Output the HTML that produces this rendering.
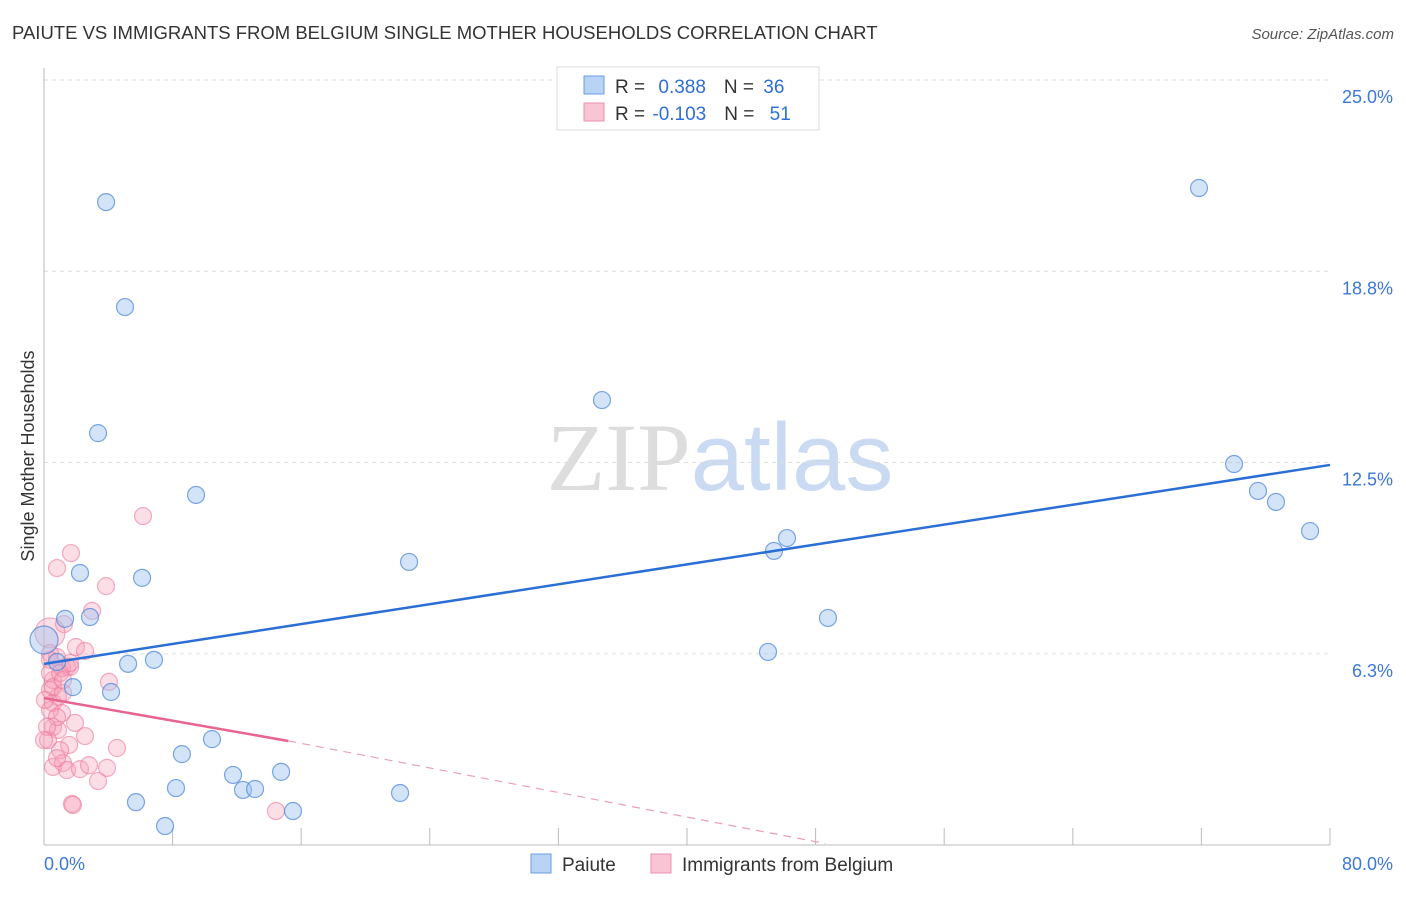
<!DOCTYPE html>
<html><head><meta charset="utf-8"><style>
body{margin:0;background:#fff;font-family:"Liberation Sans",sans-serif}
svg text{font-family:"Liberation Sans",sans-serif}
</style></head><body>
<svg id="chart" width="1406" height="892" xmlns="http://www.w3.org/2000/svg">
<text x="12" y="39" font-size="18.5" fill="#333">PAIUTE VS IMMIGRANTS FROM BELGIUM SINGLE MOTHER HOUSEHOLDS CORRELATION CHART</text>
<text x="1394" y="39" font-size="15" fill="#555" text-anchor="end" font-style="italic">Source: ZipAtlas.com</text>
<text x="720" y="490" font-size="96" text-anchor="middle"><tspan fill="#ddd" font-family="Liberation Serif">ZIP</tspan><tspan fill="#c9daf2">atlas</tspan></text>
<text transform="translate(34,456) rotate(-90)" font-size="18" fill="#333" text-anchor="middle">Single Mother Households</text>
<g id="axes"></g>
<g id="marks"></g>
<g>
<rect x="557" y="67" width="262" height="63" fill="#fff" stroke="#ddd"/>
<rect x="584" y="76" width="20" height="18" fill="#b9d3f5" stroke="#6a9be0"/>
<rect x="584" y="103" width="20" height="18" fill="#f9c4d4" stroke="#ec8fab"/>
<text x="615" y="93" font-size="19" fill="#333">R = <tspan fill="#2e6fd8" dx="8">0.388</tspan><tspan dx="18" fill="#333">N = </tspan><tspan fill="#2e6fd8" dx="4">36</tspan></text>
<text x="615" y="120" font-size="19" fill="#333">R = <tspan fill="#2e6fd8" dx="2">-0.103</tspan><tspan dx="18" fill="#333">N = </tspan><tspan fill="#2e6fd8" dx="10">51</tspan></text>
</g>
<g>
<rect x="531" y="854" width="20" height="19" fill="#b9d3f5" stroke="#6a9be0"/>
<text x="562" y="871" font-size="19" fill="#333">Paiute</text>
<rect x="651" y="854" width="20" height="19" fill="#f9c4d4" stroke="#ec8fab"/>
<text x="682" y="871" font-size="19" fill="#333">Immigrants from Belgium</text>
</g>
</svg>
<script>
const yTicks=[25,18.75,12.5,6.25];
const yTickLabels=["25.0%","18.8%","12.5%","6.3%"];
const xTickLabels=["0.0%","80.0%"];
const paiuteX=[3.86,5.04,3.36,9.46,2.24,6.10,1.31,2.86,0,0.81,5.23,6.84,1.80,4.17,8.58,10.45,8.21,5.72,7.53,11.76,12.38,13.13,14.75,15.49,22.15,22.71,34.71,45.41,46.22,48.77,45.04,71.85,74.03,75.52,76.64,78.76];
const paiuteY=[21.01,17.58,13.46,11.44,8.89,8.73,7.39,7.45,6.70,5.98,5.92,6.05,5.16,5.00,2.97,3.46,1.86,1.40,0.62,2.29,1.80,1.83,2.39,1.11,1.70,9.25,14.54,9.61,10.03,7.42,6.31,21.47,12.45,11.57,11.21,10.26];
const belgX=[6.16,1.68,0.81,3.86,2.99,1.24,0.37,1.99,2.55,1.43,1.12,4.04,0.56,0.37,0.87,0.56,1.12,0.56,1.93,0.87,2.55,1.56,4.54,1.00,0.56,1.18,1.43,2.24,2.80,3.92,3.36,1.74,14.43,0.37,0.81,0.37,0.56,1.18,0.25,0.37,0.81,0.06,1.62,0.37,1.00,1.18,0.19,0.81,1.80,1.62,0];
const belgY=[10.75,9.54,9.05,8.46,7.65,7.22,6.93,6.47,6.34,5.82,5.78,5.33,5.39,5.07,4.84,4.64,4.31,3.86,3.99,3.76,3.56,3.27,3.17,3.10,2.55,2.68,2.45,2.48,2.61,2.52,2.09,1.34,1.11,6.27,6.14,5.62,5.16,4.97,3.43,4.41,4.18,4.74,5.82,6.05,5.62,5.39,3.86,2.84,1.31,5.95,3.43];
const paiuteBig=[8];
const belgBig=[6];
const paiuteTrend=[5.92,12.42];
const belgTrend=[4.8,3.4];
const belgTrendSolidEnd=15.2;
const belgTrendDashEnd=[48.6,0.05];

const NS="http://www.w3.org/2000/svg";
const X=v=>44+v/80*1286;
const Y=v=>845-v*30.6;
function mk(t,a,p){const e=document.createElementNS(NS,t);for(const k in a)e.setAttribute(k,a[k]);p.appendChild(e);return e;}
const axes=document.getElementById('axes'),marks=document.getElementById('marks');
yTicks.forEach((t,i)=>{
 const g=mk('line',{x1:44,x2:1330,y1:Y(t),y2:Y(t),stroke:'#ddd','stroke-dasharray':'4,4'},axes);
 
 
 const l=mk('text',{x:1393,y:Y(t)+23,'font-size':18,fill:'#3b78d8','text-anchor':'end'},axes);
 l.textContent=yTickLabels[i];
 
 
});
const ax=mk('line',{x1:44,x2:44,y1:68,y2:845,stroke:'#bbb'},axes);


const bx=mk('line',{x1:44,x2:1330,y1:845,y2:845,stroke:'#bbb'},axes);


for(let i=0;i<=10;i++){const t=mk('line',{x1:X(i*8),x2:X(i*8),y1:828,y2:845,stroke:'#bbb'},axes);
 
 }
const xl0=mk('text',{x:44,y:870,'font-size':18,fill:'#3b78d8'},axes);xl0.textContent=xTickLabels[0];


const xl1=mk('text',{x:1393,y:870,'font-size':18,fill:'#3b78d8','text-anchor':'end'},axes);xl1.textContent=xTickLabels[1];


belgX.forEach((v,i)=>{const c=mk('circle',{cx:X(v),cy:Y(belgY[i]),r:belgBig.includes(i)?15:8.5,fill:'rgba(246,160,185,0.35)',stroke:'rgba(236,120,155,0.6)','stroke-width':1.2},marks);
 
 });
paiuteX.forEach((v,i)=>{const c=mk('circle',{cx:X(v),cy:Y(paiuteY[i]),r:paiuteBig.includes(i)?14:8.5,fill:'rgba(160,195,240,0.45)',stroke:'rgba(70,130,215,0.7)','stroke-width':1.2},marks);
 
 });
const pl=mk('line',{x1:X(0),y1:Y(paiuteTrend[0]),x2:X(80),y2:Y(paiuteTrend[1]),stroke:'#2b6fd6','stroke-width':2.5},marks);


const bl=mk('line',{x1:X(0),y1:Y(belgTrend[0]),x2:X(belgTrendSolidEnd),y2:Y(belgTrend[1]),stroke:'#e8658f','stroke-width':2.5},marks);


const bd=mk('line',{x1:X(belgTrendSolidEnd),y1:Y(belgTrend[1]),x2:X(belgTrendDashEnd[0]),y2:Y(belgTrendDashEnd[1]),stroke:'#e8a0b5','stroke-width':1.2,'stroke-dasharray':'8,6'},marks);


</script>
</body></html>
